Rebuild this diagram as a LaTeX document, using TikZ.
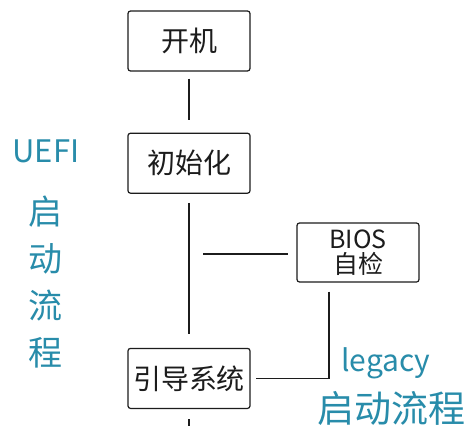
\documentclass[tikz,border=0pt]{standalone}
\usepackage{fontspec}
\setmainfont{Noto Sans CJK SC}
\usepackage{tikz}
\usetikzlibrary{positioning}
\definecolor{mydark}{RGB}{28,28,28}
\definecolor{myteal}{RGB}{40,140,170}
\tikzset{
  block/.style={rectangle, draw=mydark, fill=white, text=mydark,
    minimum width=122pt, minimum height=60pt, inner sep=0pt,
    font=\fontsize{28}{30}\selectfont, rounded corners=2.5pt, line width=1.2pt},
  smallblock/.style={block, align=center,
    font=\fontsize{25}{28}\selectfont},
  tealtext/.style={text=myteal, inner sep=0pt},
  line/.style={line width=1.8pt, color=mydark}
}

\begin{document}
\begin{tikzpicture}[x=1pt, y=-1pt]
  % Frame
  \fill[white] (0,0) rectangle (475,426);
  \clip (0,0) rectangle (475,426);

  % Boxes
  \node[block] (kaiji) at (189,41) {开机};
  \node[block, below=61pt of kaiji] (chushihua) {初始化};
  \node[block, below=154pt of chushihua] (yindao) {引导系统};
  \node[smallblock, minimum height=59pt] (bios) at (358,252.5) {BIOS\\[-3pt]自检};

  % Connectors
  \coordinate (branch) at (203,254);
  \coordinate (next) at (189,440);
  \draw[line, shorten <=7pt, shorten >=13pt] (kaiji) -- (chushihua);
  \draw[line, shorten <=9pt, shorten >=14pt] (chushihua) -- (yindao);
  \draw[line, shorten >=8pt] (branch) -- (branch -| bios.west);
  \draw[line, shorten <=9pt, shorten >=5pt] ([xshift=-29pt]bios.south) |- (yindao.east);
  \draw[line, shorten <=10pt] (yindao) -- (next);

  % UEFI side
  \node[tealtext, font=\fontsize{31}{32}\selectfont] (uefi) at (46,151) {UEFI};
  \foreach \ch [count=\i] in {启,动,流,程} {
    \node[tealtext, font=\fontsize{34}{36}\selectfont] (uefi\i) at (45,165+47*\i) {\ch};
  }

  % legacy side
  \node[tealtext, font=\fontsize{30}{32}\selectfont] (legacy) at (386,363) {legacy};
  \node[tealtext, font=\fontsize{37}{40}\selectfont] (legacyflow) at (391,408) {启动流程};
\end{tikzpicture}
\end{document}
